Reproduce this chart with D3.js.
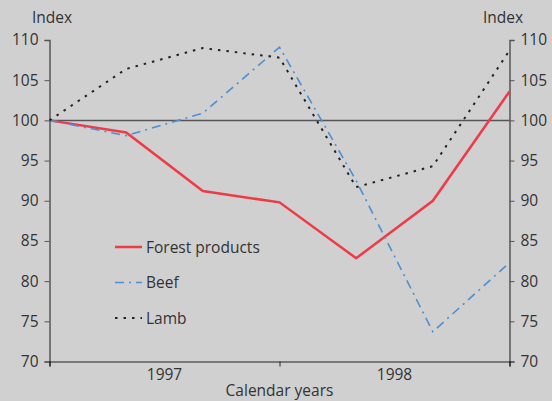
<!DOCTYPE html>
<html>
<head>
<meta charset="utf-8">
<script src="https://cdn.jsdelivr.net/npm/d3@7/dist/d3.min.js"></script>
<style>
  html, body { margin: 0; padding: 0; background: #d0d0d0; }
  svg { display: block; }
  text { font-family: "Open Sans", "Noto Sans", sans-serif; fill: #333; }
</style>
</head>
<body>
<svg id="chart" width="552" height="401"></svg>
<script>
// Index values (base = 100), sampled at seven points across 1997–1998
const periods = [0, 1, 2, 3, 4, 5, 6];
const forestProducts = [100, 98.5, 91.2, 89.8, 82.85, 90.0, 103.6];
const beef = [100, 98.1, 100.9, 109.1, 92.5, 73.7, 82.3];
const lamb = [100, 106.4, 109.0, 107.8, 91.7, 94.3, 108.7];
const yearLabels = ["1997", "1998"];
const yTicks = [70, 75, 80, 85, 90, 95, 100, 105, 110];
const seriesNames = ["Forest products", "Beef", "Lamb"];

const svg = d3.select("#chart");
const plotLeft = 49.5, plotRight = 509.5, plotTop = 40, plotBottom = 361.5;

const x = d3.scaleLinear().domain([0, 6]).range([plotLeft, plotRight]);
const y = d3.scaleLinear().domain([70, 110]).range([plotBottom, plotTop]);

// Left and right value axes
const yLeft = d3.axisLeft(y).tickValues(yTicks).tickSize(5).tickPadding(6);
const yRight = d3.axisRight(y).tickValues(yTicks).tickSize(5).tickPadding(6);

const gl = svg.append("g").attr("transform", `translate(${plotLeft},0)`).call(yLeft);
const gr = svg.append("g").attr("transform", `translate(${plotRight},0)`).call(yRight);
[gl, gr].forEach(g => {
  g.select(".domain").attr("stroke", "#555").attr("stroke-width", 1.5);
  g.selectAll(".tick line").attr("stroke", "#555");
  g.selectAll(".tick text").style("font-size", "15.5px").attr("fill", "#333");
});

// Bottom axis: ticks mark the year boundaries, labels sit between them
const xAxis = d3.axisBottom(x).tickValues([0, 3, 6]).tickSize(5).tickFormat("");
const gx = svg.append("g").attr("transform", `translate(0,${plotBottom})`).call(xAxis);
gx.select(".domain").attr("stroke", "#222").attr("stroke-width", 1.2);
gx.selectAll(".tick line").attr("stroke", "#222");

svg.selectAll(".year")
  .data(yearLabels)
  .join("text")
  .attr("class", "year")
  .attr("x", (d, i) => x(i * 3 + 1.5))
  .attr("y", 380)
  .attr("text-anchor", "middle")
  .style("font-size", "15.5px")
  .text(d => d);

svg.append("text")
  .attr("x", (plotLeft + plotRight) / 2)
  .attr("y", 396)
  .attr("text-anchor", "middle")
  .style("font-size", "15.5px")
  .text("Calendar years");

svg.append("text").attr("x", 52).attr("y", 23).attr("text-anchor", "middle")
  .style("font-size", "15.5px").text("Index");
svg.append("text").attr("x", 503).attr("y", 23).attr("text-anchor", "middle")
  .style("font-size", "15.5px").text("Index");

// Base line at 100
svg.append("line")
  .attr("x1", plotLeft).attr("x2", plotRight)
  .attr("y1", y(100)).attr("y2", y(100))
  .attr("stroke", "#555").attr("stroke-width", 1.5);

const line = d3.line().x((d, i) => x(periods[i])).y(d => y(d));

const styles = [
  { data: forestProducts, color: "#ee3b45", width: 2.5, dash: null },
  { data: beef, color: "#4b8fd4", width: 1.6, dash: "9,5,2,5" },
  { data: lamb, color: "#222", width: 2, dash: "2.5,6" }
];

styles.forEach(s => {
  svg.append("path")
    .datum(s.data)
    .attr("d", line)
    .attr("fill", "none")
    .attr("stroke", s.color)
    .attr("stroke-width", s.width)
    .attr("stroke-linejoin", "miter")
    .attr("stroke-dasharray", s.dash);
});

// Legend
const legend = svg.append("g").attr("transform", "translate(115,247)");
seriesNames.forEach((name, i) => {
  const s = styles[i];
  const g = legend.append("g").attr("transform", `translate(0,${i * 35.5})`);
  g.append("line")
    .attr("x1", 0).attr("x2", 27).attr("y1", 0).attr("y2", 0)
    .attr("stroke", s.color).attr("stroke-width", s.width)
    .attr("stroke-dasharray", s.dash);
  g.append("text")
    .attr("x", 31).attr("y", 5.5)
    .style("font-size", "15.5px")
    .text(name);
});
</script>
</body>
</html>
